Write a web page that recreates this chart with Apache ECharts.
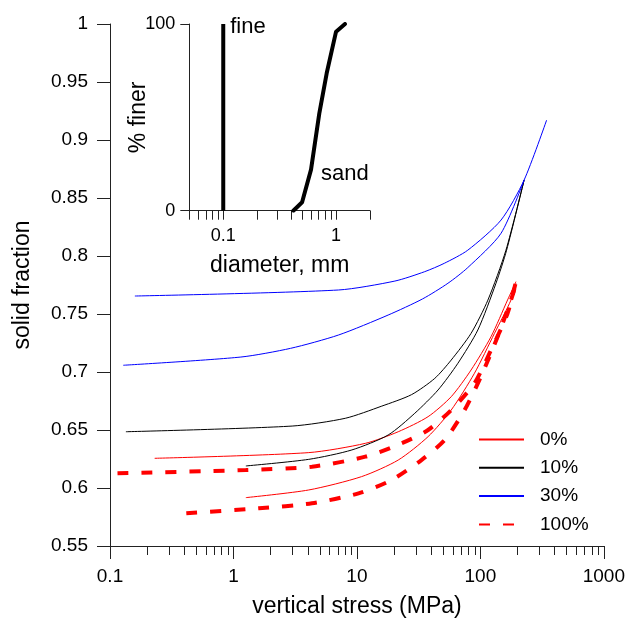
<!DOCTYPE html>
<html>
<head>
<meta charset="utf-8">
<script src="https://cdn.jsdelivr.net/npm/echarts@6/dist/echarts.min.js"></script>
<style>
  html, body { margin: 0; padding: 0; background: #fff; }
  #chart { width: 628px; height: 624px; }
</style>
</head>
<body>
<div id="chart"></div>
<script>
// Compaction curves: solid fraction vs vertical stress (MPa), per fines content.
// Each mix has two loading curves (two initial packings).
const fines0_a   = [[0.23,0.6256],[4.07,0.6305],[11.7,0.6385],[21.6,0.6485],[37.7,0.6615],[58,0.6787],[84,0.7017],[122,0.7305],[166,0.7621],[194,0.7779]];
const fines0_b   = [[1.26,0.5917],[4.07,0.5983],[10.9,0.6098],[21.6,0.6241],[37.7,0.6443],[58,0.6672],[89.5,0.6989],[130,0.7333],[177,0.7621],[194,0.7765]];
const fines10_a  = [[0.1345,0.6485],[2.99,0.6534],[8.05,0.6601],[15.9,0.6706],[27.7,0.6805],[42.7,0.6945],[58,0.7103],[84,0.7333],[115,0.762],[161,0.805],[226,0.8655]];
const fines10_b  = [[1.26,0.619],[4.07,0.6247],[9.1,0.6328],[17.9,0.6457],[29.4,0.6644],[45.4,0.6845],[65.7,0.7075],[95.3,0.7362],[133.7,0.7765],[163,0.805],[226,0.8655]];
const fines30_a  = [[0.159,0.7655],[7.1,0.7707],[20.3,0.7784],[35.4,0.7865],[51,0.7937],[79,0.805],[147,0.831],[226,0.8655],[344,0.9172]];
const fines30_b  = [[0.128,0.7058],[1.148,0.7129],[2.9,0.7204],[7.1,0.7319],[17.9,0.7491],[34,0.763],[54.6,0.7765],[79,0.790],[147,0.8196],[226,0.8655]];
const fines100_a = [[0.115,0.6127],[1.26,0.6155],[4.32,0.6184],[11.7,0.627],[23,0.6385],[37.7,0.65],[58,0.6672],[89.5,0.6903],[122,0.719],[166,0.7506],[194,0.778]];
const fines100_b = [[0.415,0.5782],[1.61,0.5825],[4.32,0.5868],[10.3,0.5954],[19.1,0.6069],[33.3,0.6241],[51.4,0.6414],[74.5,0.6672],[101,0.696],[138,0.7305],[177,0.7621],[194,0.776]];

// Grain size distributions (inset): diameter (mm) vs % finer
const fineGrading = [[0.1,0],[0.1,100]];
const sandGrading = [[0.418,0],[0.5,4.5],[0.6,22],[0.71,52],[0.826,73.6],[1.0,95.9],[1.2,100]];

// Axis ticks and labels
const stressLabels = [0.1, 1, 10, 100, 1000];
const diameterLabels = [0.1, 1];
const diameterEnds = [0.05, 2];
const percentLabels = [0, 100];

function decadeTicks(lo, hi) {
  const out = [];
  for (let d = lo; d < hi; d *= 10) {
    for (let k = 1; k < 10; k++) out.push(+(d * k).toPrecision(6));
  }
  out.push(hi);
  return out;
}
const stressMinor = decadeTicks(0.1, 1000);
const diameterTicks = decadeTicks(0.01, 10).filter(v => v >= 0.05 && v <= 2);

const FONT = "'Liberation Sans', Arial, sans-serif";
const fmt = v => String(+(+v).toPrecision(6));

const AXIS_LINE = { show: true, lineStyle: { color: '#222', width: 1 } };
const TITLE = { fontSize: 23, fontFamily: FONT, color: '#000', lineHeight: 24 };

function curve(name, data, color, dashed) {
  return {
    name: name, type: 'line', xAxisIndex: 0, yAxisIndex: 0,
    data: data, symbol: 'none', showSymbol: false, silent: true,
    smooth: 0.25, z: dashed ? 3 : 4,
    lineStyle: dashed ? { color: color, width: 4, type: [11, 13] } : { color: color, width: 1 },
    itemStyle: { color: color }
  };
}

function textLabel(text, distance, offset) {
  return { show: true, formatter: text, position: 'right', distance: distance, offset: offset,
           fontSize: 22, color: '#000', fontFamily: FONT };
}

const chart = echarts.init(document.getElementById('chart'), null, { renderer: 'canvas' });
chart.setOption({
  animation: false,
  backgroundColor: '#fff',
  textStyle: { fontFamily: FONT, color: '#000' },
  grid: [
    { left: 110, right: 22, top: 24, bottom: 78 },
    { left: 189.3, top: 24, width: 180.7, height: 186.7 }
  ],
  legend: {
    data: ['0%', '10%', '30%', '100%'],
    orient: 'vertical', left: 478, top: 430, padding: 0,
    itemWidth: 45, itemHeight: 20, itemGap: 9.3,
    selectedMode: false,
    itemStyle: { opacity: 0 },
    textStyle: { fontSize: 19, fontFamily: FONT, color: '#000', padding: [0, 0, 0, 11] }
  },
  xAxis: [
    {
      gridIndex: 0, type: 'log', logBase: 10, min: 0.1, max: 1000, position: 'bottom',
      name: 'vertical stress (MPa)', nameLocation: 'middle', nameGap: 49, nameMoveOverlap: false,
      nameTextStyle: TITLE,
      axisLine: AXIS_LINE,
      axisTick: { show: true, inside: false, length: 9, customValues: stressMinor, lineStyle: { color: '#222' } },
      axisLabel: { show: true, customValues: stressLabels, formatter: fmt, fontSize: 19, color: '#000', margin: 21, lineHeight: 20 },
      splitLine: { show: false }, minorTick: { show: false }
    },
    {
      gridIndex: 0, type: 'log', logBase: 10, min: 0.1, max: 1000, position: 'bottom', offset: 0,
      axisLine: { show: false },
      axisTick: { show: true, inside: false, length: 13, customValues: stressLabels, lineStyle: { color: '#222' } },
      axisLabel: { show: false }, splitLine: { show: false }
    },
    {
      gridIndex: 1, type: 'log', logBase: 10, min: diameterEnds[0], max: diameterEnds[1], position: 'bottom',
      name: 'diameter, mm', nameLocation: 'middle', nameGap: 43, nameMoveOverlap: false,
      nameTextStyle: TITLE,
      axisLine: AXIS_LINE,
      axisTick: { show: true, inside: false, length: 9, customValues: diameterTicks, lineStyle: { color: '#222' } },
      axisLabel: { show: true, customValues: diameterLabels, formatter: fmt, fontSize: 18, color: '#000', margin: 15, lineHeight: 20 },
      splitLine: { show: false }
    }
  ],
  yAxis: [
    {
      gridIndex: 0, type: 'value', min: 0.55, max: 1, interval: 0.05,
      name: 'solid fraction', nameLocation: 'middle', nameGap: 75, nameMoveOverlap: false,
      nameTextStyle: TITLE,
      axisLine: AXIS_LINE,
      axisTick: { show: true, inside: false, length: 13, lineStyle: { color: '#222' } },
      axisLabel: { fontSize: 19, color: '#000', margin: 22 },
      splitLine: { show: false }
    },
    {
      gridIndex: 1, type: 'value', min: 0, max: 100, interval: 100,
      name: '% finer', nameLocation: 'middle', nameGap: 39, nameMoveOverlap: false,
      nameTextStyle: TITLE,
      axisLine: AXIS_LINE,
      axisTick: { show: true, inside: false, length: 9, customValues: percentLabels, lineStyle: { color: '#222' } },
      axisLabel: { fontSize: 18, color: '#000', margin: 14 },
      splitLine: { show: false }
    }
  ],
  series: [
    curve('0%', fines0_a, '#ff0000', false),
    curve('0%', fines0_b, '#ff0000', false),
    curve('10%', fines10_a, '#000000', false),
    curve('10%', fines10_b, '#000000', false),
    curve('30%', fines30_a, '#0000ff', false),
    curve('30%', fines30_b, '#0000ff', false),
    curve('100%', fines100_a, '#ff0000', true),
    curve('100%', fines100_b, '#ff0000', true),
    {
      type: 'line', xAxisIndex: 2, yAxisIndex: 1, silent: true,
      symbol: 'circle', symbolSize: 0, showSymbol: true,
      itemStyle: { color: '#000' },
      lineStyle: { color: '#000', width: 4 },
      data: [fineGrading[0], { value: fineGrading[1], label: textLabel('fine', 7, [0, 3]) }]
    },
    {
      type: 'line', xAxisIndex: 2, yAxisIndex: 1, silent: true,
      symbol: 'circle', symbolSize: 0, showSymbol: true,
      itemStyle: { color: '#000' },
      lineStyle: { color: '#000', width: 4, join: 'round', cap: 'round' },
      data: sandGrading.map((p, i) => i === 2 ? { value: p, label: textLabel('sand', 10, [0, 4]) } : p)
    }
  ]
});
</script>
</body>
</html>
